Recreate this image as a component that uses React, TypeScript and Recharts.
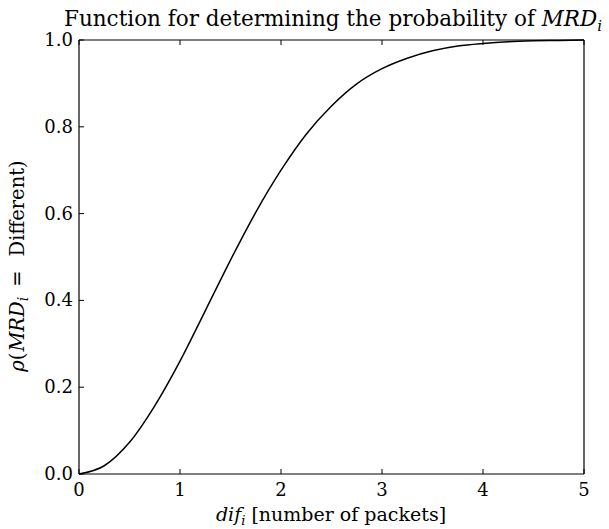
import { Label, Line, LineChart, XAxis, YAxis } from "recharts";

// dif_i values (number of packets) and the curve
const difValues = [0, 0.25, 0.5, 0.75, 1, 1.25, 1.5, 1.75, 2, 2.25, 2.5, 2.75, 3, 3.25, 3.5, 3.75, 4, 4.25, 4.5, 4.75, 5];
const probValues = [0, 0.019, 0.073, 0.157, 0.26, 0.376, 0.493, 0.603, 0.7, 0.783, 0.848, 0.899, 0.934, 0.958, 0.975, 0.986, 0.992, 0.996, 0.998, 0.999, 1.0];

const xTicks = [0, 1, 2, 3, 4, 5];
const yTicks = [0, 0.2, 0.4, 0.6, 0.8, 1.0];

const data = difValues.map((d, i) => ({ dif: d, p: probValues[i] }));

const FONT = "'DejaVu Serif', serif";
const TICK_LEN = 5;
const GAP = 8;

// matplotlib-style inward ticks: the tick mark is drawn by the tick renderer
function InTick(props: any) {
  const { x, y, payload, side, label } = props;
  let line = null;
  let text = null;
  if (side === "bottom") {
    const ay = y - GAP;
    line = <line x1={x} y1={ay} x2={x} y2={ay - TICK_LEN} stroke="#000" />;
    if (label)
      text = (
        <text x={x} y={ay + 22} textAnchor="middle" fontFamily={FONT} fontSize={18} fill="#000">
          {payload.value}
        </text>
      );
  } else if (side === "top") {
    const ay = y + GAP;
    line = <line x1={x} y1={ay} x2={x} y2={ay + TICK_LEN} stroke="#000" />;
  } else if (side === "left") {
    const ax = x + GAP;
    line = <line x1={ax} y1={y} x2={ax + TICK_LEN} y2={y} stroke="#000" />;
    if (label)
      text = (
        <text x={ax - 6} y={y + 6} textAnchor="end" fontFamily={FONT} fontSize={18} fill="#000">
          {Number(payload.value).toFixed(1)}
        </text>
      );
  } else {
    const ax = x - GAP;
    line = <line x1={ax} y1={y} x2={ax - TICK_LEN} y2={y} stroke="#000" />;
  }
  return (
    <g>
      {line}
      {text}
    </g>
  );
}

const frame = { stroke: "#000", strokeWidth: 1.2 };

export default function App() {
  return (
    <div style={{ position: "absolute", left: 0, top: 0, width: 609, height: 529, background: "#fff" }}>
      <LineChart width={609} height={529} data={data} margin={{ top: 30, right: 15, bottom: 0, left: 0 }}>
        <XAxis
          dataKey="dif"
          type="number"
          domain={[0, 5]}
          ticks={xTicks}
          height={55}
          tickSize={0}
          tickMargin={GAP}
          tickLine={false}
          tick={(p: any) => <InTick {...p} side="bottom" label />}
          axisLine={frame}
        >
          <Label
            content={() => (
              <text x={331} y={521} textAnchor="middle" fontFamily={FONT} fontSize={19} fill="#000">
                <tspan fontStyle="italic">dif</tspan>
                <tspan fontStyle="italic" fontSize={13} dy={4}>i</tspan>
                <tspan dy={-4}> [number of packets]</tspan>
              </text>
            )}
          />
        </XAxis>
        <XAxis
          xAxisId="top"
          orientation="top"
          dataKey="dif"
          type="number"
          domain={[0, 5]}
          ticks={xTicks}
          height={10}
          tickSize={0}
          tickMargin={GAP}
          tickLine={false}
          tick={(p: any) => <InTick {...p} side="top" />}
          axisLine={frame}
        >
          <Label
            content={() => (
              <text x={333} y={26} textAnchor="middle" fontFamily={FONT} fontSize={21.5} fill="#000">
                <tspan>Function for determining the probability of </tspan>
                <tspan fontStyle="italic">MRD</tspan>
                <tspan fontStyle="italic" fontSize={15} dy={5}>i</tspan>
              </text>
            )}
          />
        </XAxis>
        <YAxis
          type="number"
          domain={[0, 1]}
          ticks={yTicks}
          width={79}
          tickSize={0}
          tickMargin={GAP}
          tickLine={false}
          tick={(p: any) => <InTick {...p} side="left" label />}
          axisLine={frame}
        >
          <Label
            content={() => (
              <text
                x={24}
                y={266}
                textAnchor="middle"
                transform="rotate(-90, 24, 266)"
                fontFamily={FONT}
                fontSize={19.5}
                fill="#000"
              >
                <tspan fontStyle="italic">ρ</tspan>
                <tspan>(</tspan>
                <tspan fontStyle="italic" dx={1}>MRD</tspan>
                <tspan fontStyle="italic" fontSize={14} dy={4}>i</tspan>
                <tspan dy={-4} dx={10}>=</tspan>
                <tspan dx={14}>Different)</tspan>
              </text>
            )}
          />
        </YAxis>
        <YAxis
          yAxisId="right"
          orientation="right"
          type="number"
          domain={[0, 1]}
          ticks={yTicks}
          width={10}
          tickSize={0}
          tickMargin={GAP}
          tickLine={false}
          tick={(p: any) => <InTick {...p} side="right" />}
          axisLine={frame}
        />
        <Line
          dataKey="p"
          type="monotone"
          stroke="#000"
          strokeWidth={1.5}
          dot={false}
          isAnimationActive={false}
        />
      </LineChart>
    </div>
  );
}
